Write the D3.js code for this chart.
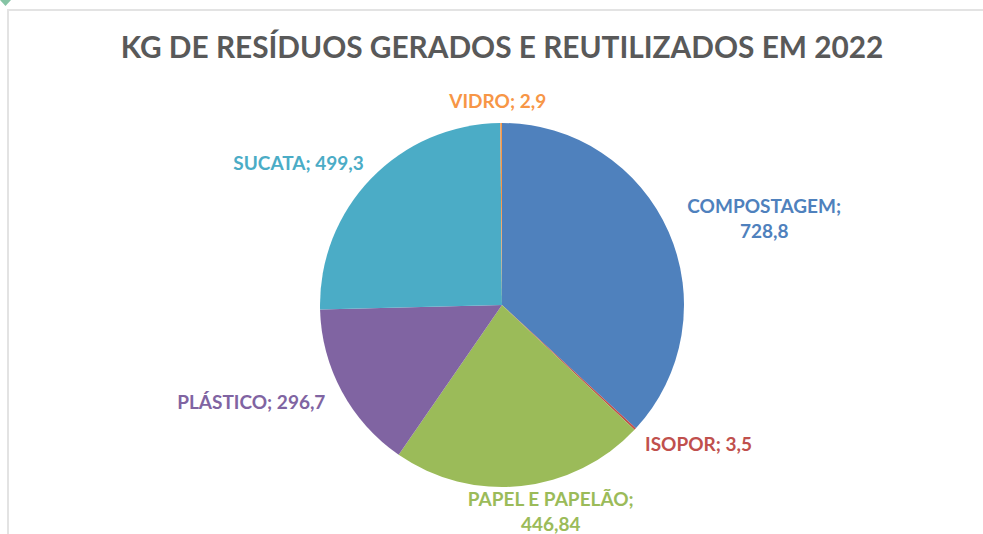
<!DOCTYPE html>
<html>
<head>
<meta charset="utf-8">
<script src="https://cdn.jsdelivr.net/npm/d3@7/dist/d3.min.js"></script>
<style>
  html, body { margin: 0; padding: 0; background: #ffffff; }
  svg { display: block; }
</style>
</head>
<body>
<svg id="chart" width="983" height="534"></svg>
<script>
// Resíduos gerados e reutilizados em 2022 (kg)
const categories = ["COMPOSTAGEM", "ISOPOR", "PAPEL E PAPELÃO", "PLÁSTICO", "SUCATA", "VIDRO"];
const values = [728.8, 3.5, 446.84, 296.7, 499.3, 2.9];
const colors = ["#4f81bd", "#c0504d", "#9bbb59", "#8064a2", "#4bacc6", "#f79646"];
const title = "KG DE RESÍDUOS GERADOS E REUTILIZADOS EM 2022";

const W = 983, H = 534;
const cx = 502, cy = 305, R = 182;
const font = "Lato, 'Open Sans', sans-serif";

const svg = d3.select("#chart");

// frame of the chart area
svg.append("path")
  .attr("d", "M8,534 L8,10 L983,10")
  .attr("fill", "none")
  .attr("stroke", "#e3e3e3")
  .attr("stroke-width", 2);

// small marker at the top-left corner
svg.append("path")
  .attr("d", "M0,0 L11,0 L5.5,6 Z")
  .attr("fill", "#86c4a5");

// title
svg.append("text")
  .attr("x", cx)
  .attr("y", 58)
  .attr("text-anchor", "middle")
  .attr("font-family", font)
  .attr("font-weight", 700)
  .attr("font-size", 29.8)
  .attr("fill", "#595959")
  .text(title);

const data = categories.map((c, i) => ({ name: c, value: values[i], color: colors[i] }));

const pie = d3.pie().sort(null).value(d => d.value);
const arcs = pie(data);
const arc = d3.arc().innerRadius(0).outerRadius(R);

const g = svg.append("g").attr("transform", `translate(${cx},${cy})`);

g.selectAll("path.slice")
  .data(arcs)
  .join("path")
  .attr("class", "slice")
  .attr("d", arc)
  .attr("fill", d => d.data.color);

// data labels: "NOME; valor", wrapped after ";" when too wide
const fmt = v => String(v).replace(".", ",");
const fs = 19, lineH = 25, maxW = 170;
const gapX = 24, gapY = 12;
const bottomLimit = H - cy;   // labels stay inside the chart area

const labels = g.selectAll("text.lbl")
  .data(arcs)
  .join("text")
  .attr("class", "lbl")
  .attr("font-family", font)
  .attr("font-weight", 700)
  .attr("font-size", fs)
  .attr("fill", d => d.data.color)
  .attr("text-anchor", "middle");

labels.each(function(d) {
  const t = d3.select(this);
  const full = `${d.data.name}; ${fmt(d.data.value)}`;
  t.text(full);
  let lines = [full];
  if (this.getComputedTextLength() > maxW) {
    lines = [`${d.data.name};`, fmt(d.data.value)];
  }
  t.text(null);
  lines.forEach((l, i) => t.append("tspan").attr("x", 0).attr("dy", i === 0 ? 0 : lineH).text(l));
  const w = this.getBBox().width;
  const h = (lines.length - 1) * lineH + fs;
  const a = (d.startAngle + d.endAngle) / 2;
  const sx = Math.sin(a), sy = -Math.cos(a);
  // box sits just outside the slice, pushed outward along the slice direction
  const px = (R + gapX) * sx + Math.sign(sx) * Math.sqrt(Math.abs(sx)) * w / 2;
  let top = (R + gapY) * sy + sy * h / 2 - h / 2;
  if (top + h > bottomLimit) top = bottomLimit - h;
  t.attr("transform", `translate(${px},${top + fs * 0.86})`);
});
</script>
</body>
</html>
